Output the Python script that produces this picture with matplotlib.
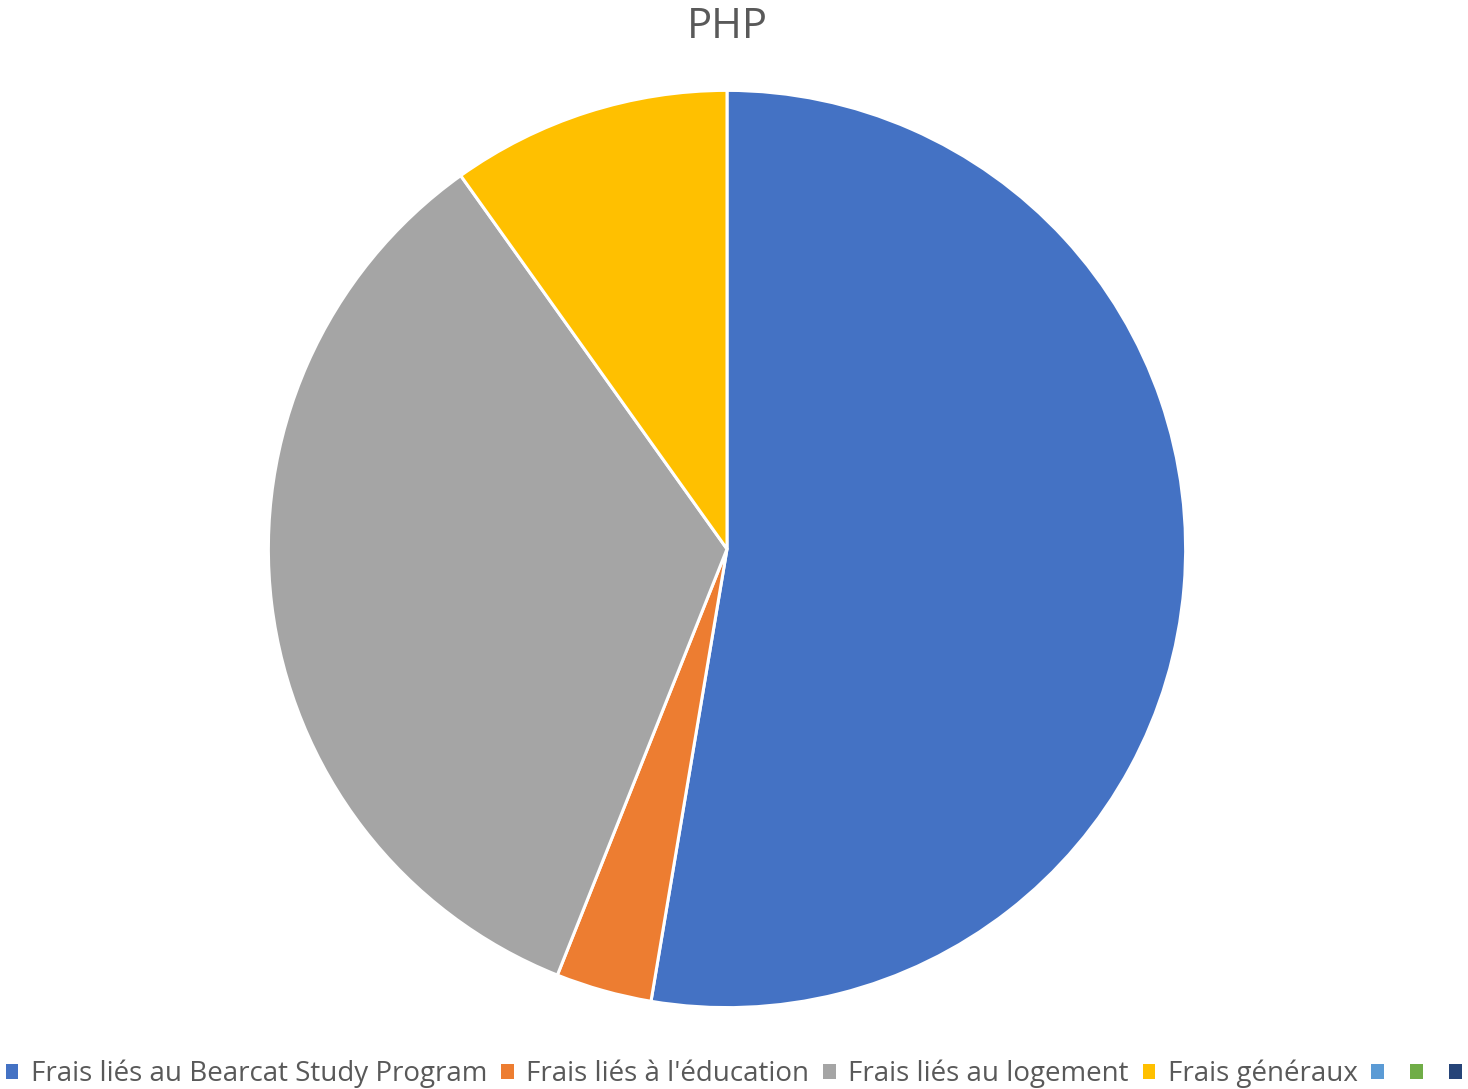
import matplotlib
matplotlib.use("Agg")
import matplotlib.pyplot as plt
from matplotlib.patches import Patch

plt.rcParams['font.family'] = ['Open Sans', 'DejaVu Sans']

labels = ["Frais liés au Bearcat Study Program", "Frais liés à l'éducation",
          "Frais liés au logement", "Frais généraux", "", "", ""]
values = [52.65, 3.38, 34.11, 9.86, 0, 0, 0]
colors = ["#4472C4", "#ED7D31", "#A5A5A5", "#FFC000", "#5B9BD5", "#70AD47", "#264478"]
title = "PHP"

W, H = 1468, 1089
fig = plt.figure(figsize=(W / 100, H / 100), dpi=100)
cx, cy, r = 727, 549, 460
ax = fig.add_axes([(cx - r) / W, (H - cy - r) / H, 2 * r / W, 2 * r / H])
nz = [(v, c) for v, c in zip(values, colors) if v > 0]
ax.pie([v for v, _ in nz], colors=[c for _, c in nz], startangle=90, counterclock=False,
       radius=1, wedgeprops=dict(edgecolor="white", linewidth=2.2))
ax.set_xlim(-1.003, 1.003)
ax.set_ylim(-1.003, 1.003)
ax.set_aspect('equal')
ax.axis('off')

fig.text(cx / W, 1 - 27 / H, title, ha='center', va='center', fontsize=30, color='#595959')

handles = [Patch(facecolor=c, edgecolor='none') for c in colors]
fig.legend(handles, labels, loc='center', bbox_to_anchor=(740 / W, 1 - 1074 / H), ncol=7,
           frameon=False, fontsize=20, labelcolor='#595959', handlelength=0.45, handleheight=0.45,
           handletextpad=0.45, columnspacing=0.5)

fig.savefig("out.png", dpi=100)
